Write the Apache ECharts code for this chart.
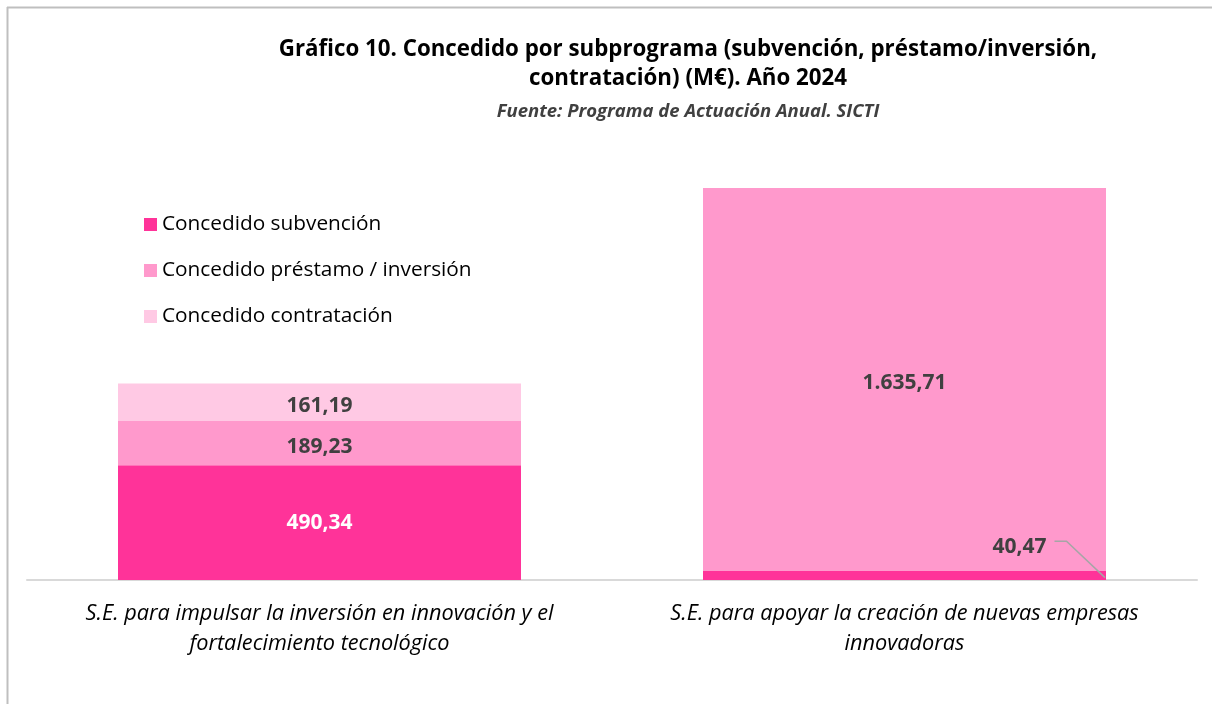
<!DOCTYPE html>
<html>
<head>
<meta charset="utf-8">
<script src="https://cdn.jsdelivr.net/npm/echarts@6/dist/echarts.min.js"></script>
<style>
html,body{margin:0;padding:0;background:#fff;}
#c{width:1212px;height:704px;}
</style>
</head>
<body>
<div id="c"></div>
<script>
const categories = [
  'S.E. para impulsar la inversión en innovación y el\nfortalecimiento tecnológico',
  'S.E. para apoyar la creación de nuevas empresas\ninnovadoras'
];
const seriesNames = ['Concedido subvención', 'Concedido préstamo / inversión', 'Concedido contratación'];
const subvencion = [490.34, 40.47];
const prestamo = [189.23, 1635.71];
const contratacion = [161.19, null];
const colors = ['#FF3399', '#FF99CC', '#FFC9E4'];

function fmt(v) {
  const parts = v.toFixed(2).split('.');
  parts[0] = parts[0].replace(/\B(?=(\d{3})+(?!\d))/g, '.');
  return parts.join(',');
}

const FONT = '"Open Sans", sans-serif';
const BAR_W = 403;
const LBL_DX = 115, LBL_DY = -28;
const labelBase = {
  show: true, position: 'inside', fontFamily: FONT, fontWeight: 'bold',
  fontSize: 21, color: '#404040', offset: [0, 4],
  formatter: p => fmt(p.value)
};

const chart = echarts.init(document.getElementById('c'), null, {renderer: 'canvas'});
chart.setOption({
  animation: false,
  backgroundColor: '#fff',
  title: {
    text: 'Gráfico 10. Concedido por subprograma (subvención, préstamo/inversión,\ncontratación) (M€). Año 2024',
    subtext: 'Fuente: Programa de Actuación Anual. SICTI',
    left: 683, top: 30, textAlign: 'center',
    itemGap: 9,
    textStyle: {fontFamily: FONT, fontWeight: 'bold', fontSize: 22.3, lineHeight: 29, color: '#000'},
    subtextStyle: {fontFamily: FONT, fontWeight: 'bold', fontStyle: 'italic', fontSize: 18.5, color: '#404040'}
  },
  legend: {
    orient: 'vertical', left: 139, top: 209, itemGap: 25,
    itemWidth: 13, itemHeight: 13, icon: 'rect',
    data: seriesNames,
    textStyle: {fontFamily: FONT, fontSize: 20.8, color: '#000'}
  },
  grid: {left: 27, right: 15, top: 188, bottom: 124, containLabel: false},
  xAxis: {
    type: 'category', data: categories,
    axisLine: {lineStyle: {color: '#d9d9d9', width: 2}},
    axisTick: {show: false},
    axisLabel: {fontFamily: FONT, fontStyle: 'italic', fontSize: 21.7, color: '#000', lineHeight: 30, margin: 19, interval: 0}
  },
  yAxis: {
    type: 'value', show: false, min: 0, max: v => v.max,
    splitLine: {show: false}
  },
  series: [
    {
      name: seriesNames[0], type: 'bar', stack: 'a', barWidth: BAR_W,
      itemStyle: {color: colors[0]},
      data: [
        {value: subvencion[0], label: {color: '#fff'}},
        {value: subvencion[1]}
      ],
      label: labelBase,
      labelLayout: function (p) {
        if (p.dataIndex === 1) {
          return {dx: LBL_DX, dy: LBL_DY};
        }
        return {};
      }
    },
    {
      name: seriesNames[1], type: 'bar', stack: 'a', barWidth: BAR_W,
      itemStyle: {color: colors[1]},
      data: prestamo,
      label: labelBase
    },
    {
      name: seriesNames[2], type: 'bar', stack: 'a', barWidth: BAR_W,
      itemStyle: {color: colors[2]},
      data: contratacion,
      label: labelBase
    }
  ]
});

// leader line for the small label, anchored via the chart's own scales
const pTop = chart.convertToPixel({xAxisIndex: 0, yAxisIndex: 0}, [1, subvencion[1]]);
const pMid = chart.convertToPixel({xAxisIndex: 0, yAxisIndex: 0}, [1, subvencion[1] / 4]);
const labelCx = pTop[0] + LBL_DX;
const labelCy = (pTop[1] + chart.convertToPixel({xAxisIndex: 0, yAxisIndex: 0}, [1, 0])[1]) / 2 + LBL_DY + 4;
const barRight = pTop[0] + BAR_W / 2 - 1;
const x0 = labelCx + 35;
chart.setOption({
  graphic: [
    {type: 'line', shape: {x1: 7, y1: 7.5, x2: 1212, y2: 7.5}, style: {stroke: '#bfbfbf', lineWidth: 2}},
    {type: 'line', shape: {x1: 7.5, y1: 7, x2: 7.5, y2: 704}, style: {stroke: '#bfbfbf', lineWidth: 2}},
    {type: 'polyline', z: 10, shape: {points: [[x0, labelCy - 10], [x0 + 12, labelCy - 10], [barRight, pMid[1]]]},
     style: {stroke: '#a6a6a6', lineWidth: 1.5, fill: null}}
  ]
});
</script>
</body>
</html>
